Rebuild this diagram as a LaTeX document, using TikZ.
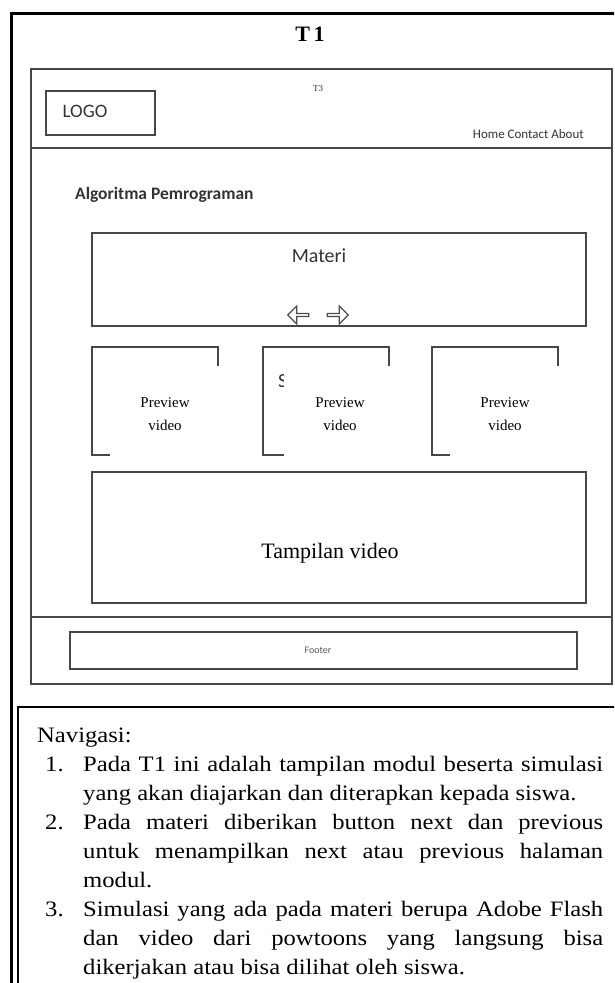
\documentclass[tikz,border=0pt]{standalone}
\usepackage{fontspec}
\setmainfont{Liberation Serif}
\newfontfamily\uifont{Carlito}
\newfontfamily\docfont{Liberation Serif}[FakeStretch=1.12]
\usetikzlibrary{shapes.arrows}

\newcommand\navfont{\docfont\fontsize{22}{29}\selectfont\tolerance=10000\emergencystretch=20pt}
\newcommand\navitem[1]{\par\noindent\hangindent=46pt\hangafter=1\makebox[46pt][l]{\hspace{8pt}#1}}

\tikzset{
  wire/.style={draw=black!72, line width=1.3pt},
  frame/.style={draw=black, line width=3pt},
  uilabel/.style={font=\uifont, text=black!80, inner sep=0pt},
  pagearrow/.style={single arrow, draw=black!70, line width=1.2pt, fill=white,
    minimum height=21pt, minimum width=18pt, single arrow head extend=3pt, inner sep=0pt},
  cover/.style={fill=white, draw=none},
  preview/.style={font=\fontsize{15}{23}\selectfont, align=center, inner sep=0pt},
}

\begin{document}
\begin{tikzpicture}[x=1pt,y=-1pt]
  \clip (0,0) rectangle (614,983);
  \fill[white] (0,0) rectangle (614,983);

  % outer page frame and title
  \draw[frame] (11,13) rectangle (640,1010);
  \node[font=\bfseries\fontsize{22}{26}\selectfont, inner sep=0pt] (title) at (310,34) {T\,1};

  % wireframe of the web page
  \draw[wire] (31,69) rectangle (612,684);
  \draw[wire] (31,148) -- (612,148);
  \draw[wire] (31,617) -- (612,617);

  % header
  \draw[wire] (46,91) rectangle (155,135);
  \node[uilabel, font=\uifont\fontsize{19}{22}\selectfont] (logo) at (85,111) {LOGO};
  \node[inner sep=0pt, font=\fontsize{9}{10}\selectfont, text=black!80] (tthree) at (318,89) {T3};
  \node[uilabel, font=\uifont\fontsize{13}{15}\selectfont, anchor=east] (menu) at (584,134) {Home Contact About};

  % content
  \node[uilabel, font=\uifont\bfseries\fontsize{17.5}{20}\selectfont, anchor=west] (course) at (75,195) {Algoritma Pemrograman};

  \draw[wire] (92,233) rectangle (586,326);
  \node[uilabel, font=\uifont\fontsize{20}{24}\selectfont] (materi) at (319,256) {Materi};
  \node[pagearrow, shape border rotate=180] (prev) at (299,315) {};
  \node[pagearrow] (next) at (337,315) {};

  % preview boxes, partly covered by their captions
  \foreach \px/\name in {92/one, 263/two, 432/three}{
    \draw[wire] (\px,347) rectangle ++(126,108);
  }
  \begin{scope}
    \clip (270,366) rectangle (287,386);
    \node[uilabel, font=\uifont\fontsize{20}{24}\selectfont, anchor=west] (frag) at (278,381) {S};
  \end{scope}
  \fill[cover] (110,366) rectangle (221,460);
  \fill[cover] (284,366) rectangle (392,460);
  \fill[cover] (450,366) rectangle (561,460);
  \node[preview] (prevone) at (165,414) {Preview\\video};
  \node[preview] (prevtwo) at (340,414) {Preview\\video};
  \node[preview] (prevthree) at (505,414) {Preview\\video};

  \draw[wire] (92,472) rectangle (586,603);
  \node[inner sep=0pt, font=\fontsize{22}{26}\selectfont] (player) at (330,553) {Tampilan video};

  % footer
  \draw[wire] (70,632) rectangle (577,669);
  \node[uilabel, font=\uifont\fontsize{10}{11}\selectfont, text=black!65] (footer) at (318,650) {Footer};

  % navigation notes
  \draw[draw=black, line width=2.2pt] (18,707) rectangle (640,1010);
  \node[inner sep=0pt, anchor=north west] (nav) at (37,728) {\begin{minipage}{566pt}\navfont
    Navigasi:
    \navitem{1.}Pada T1 ini adalah tampilan modul beserta simulasi\linebreak
    yang akan diajarkan dan diterapkan kepada siswa.
    \navitem{2.}Pada materi diberikan button next dan previous\linebreak
    untuk menampilkan next atau previous halaman\linebreak
    modul.
    \navitem{3.}Simulasi yang ada pada materi berupa Adobe Flash\linebreak
    dan video dari powtoons yang langsung bisa\linebreak
    dikerjakan atau bisa dilihat oleh siswa.
  \end{minipage}};
\end{tikzpicture}
\end{document}
